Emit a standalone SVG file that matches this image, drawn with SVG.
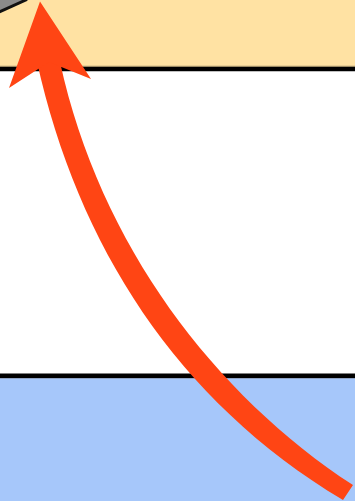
<svg xmlns="http://www.w3.org/2000/svg" width="355" height="501" viewBox="0 0 355 501">
  <style>
    .band-top { fill: #FFE2A3; }
    .band-bottom { fill: #A6C7FA; }
    .rule { stroke: #000000; stroke-width: 4.5; fill: none; }
    .arrow { fill: #FF4514; stroke: none; }
  </style>
  <rect x="0" y="0" width="355" height="501" fill="#FFFFFF"/>
  <g id="top-band">
    <rect class="band-top" x="0" y="0" width="355" height="67"/>
    <line x1="0" y1="66.2" x2="355" y2="66.2" stroke="#B8A57A" stroke-width="1"/>
    <line class="rule" x1="0" y1="69" x2="355" y2="69"/>
  </g>
  <g id="bottom-band">
    <rect class="band-bottom" x="0" y="377.5" width="355" height="123.5"/>
    <line x1="0" y1="378.3" x2="355" y2="378.3" stroke="#8A9AB8" stroke-width="1"/>
    <line class="rule" x1="0" y1="375.7" x2="355" y2="375.7"/>
  </g>
  <g id="corner-shape">
    <polygon points="0,0 26,0 0,11.5" fill="#8A8A8A"/>
    <line x1="-1" y1="12" x2="27" y2="-0.5" stroke="#111111" stroke-width="3"/>
  </g>
  <g id="connectors">
    <path class="arrow" d="M343,500 C176,400 78,245 37,62 L60,62 C100,245 215,395 353,485 Z"/>
    <polygon class="arrow" points="40,1.5 91,79 49,62 9,88"/>
  </g>
</svg>
